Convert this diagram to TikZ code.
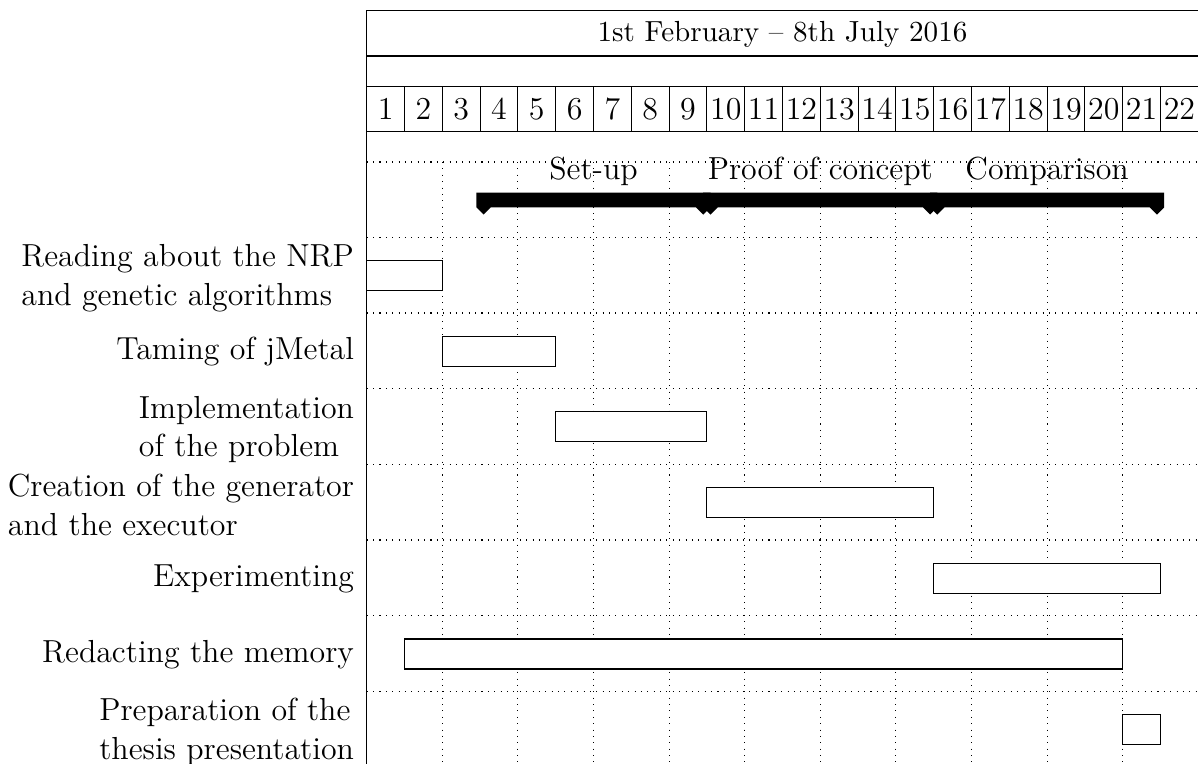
\documentclass[tikz,border=0pt,12pt]{standalone}
\begin{document}
\begin{tikzpicture}[x=0.37636pt,y=-0.37636pt,
  frameline/.style={line width=0.4pt},
  gridline/.style={dotted, line width=0.4pt},
  taskbar/.style={draw, line width=0.4pt, fill=white},
  tasklabel/.style={anchor=east, inner sep=0pt, align=left},
  grouplabel/.style={anchor=base, inner sep=0pt},
  groupbar/.style={fill=black},
  titlecell/.style={inner sep=0pt},
]
\useasboundingbox (0,0) rectangle (1198,764);

% chart geometry: left edge, column width
\def\xo{366.7}
\def\cw{37.8}

% dotted grid
\foreach \y in {162, 237.3, 313, 388.6, 464.3, 540, 615.7, 691.3}
  \draw[gridline] (\xo,\y) -- (1198,\y);
\foreach \k in {2,4,...,20}
  \draw[gridline] ({\xo+\k*\cw},162) -- ({\xo+\k*\cw},764);

% frame and title rows
\draw[frameline] (\xo,764) -- (\xo,10.7) -- (1199,10.7);
\draw[frameline] (\xo,56) -- (1199,56);
\draw[frameline] (\xo,86.7) -- (1199,86.7);
\draw[frameline] (\xo,131.7) -- (1199,131.7);
\foreach \k in {1,...,21}
  \draw[frameline] ({\xo+\k*\cw},86.7) -- ({\xo+\k*\cw},131.7);

\node[titlecell, font=\small] (title) at (782.5,34.4) {1st February -- 8th July 2016};
\foreach \i in {1,...,22}
  \node[titlecell] (num\i) at ({\xo+(\i-0.5)*\cw},109.2) {\i};

% group bars with downward peaks at both ends
\newcommand{\groupbar}[2]{%
  \fill[groupbar] (#1,192.7) -- (#2,192.7) -- (#2,207.3)
    -- ({#2-7.3},214.6) -- ({#2-14.6},207.3) -- ({#1+14.6},207.3)
    -- ({#1+7.3},214.6) -- (#1,207.3) -- cycle;}
\groupbar{476.3}{710.6}
\groupbar{703.2}{937.4}
\groupbar{930.0}{1164.2}

\node[grouplabel] (gsetup) at (593.5,180) {Set-up};
\node[grouplabel] (gproof) at (820.3,180) {Proof of concept};
\node[grouplabel] (gcomp) at (1047.1,180) {Comparison};

% task bars (row top + 23.3 to row top + 53.3)
\draw[taskbar] (366.7,260.6) rectangle (442.3,290.6);
\draw[taskbar] (442.3,336.3) rectangle (555.7,366.3);
\draw[taskbar] (555.7,411.9) rectangle (706.9,441.9);
\draw[taskbar] (706.9,487.6) rectangle (933.7,517.6);
\draw[taskbar] (933.7,563.3) rectangle (1160.5,593.3);
\draw[taskbar] (404.5,639.0) rectangle (1122.7,669.0);
\draw[taskbar] (1122.7,714.6) rectangle (1160.5,744.6);

% task labels
\node[tasklabel] (t1) at (354.5,278.2) {Reading about the NRP\\and genetic algorithms};
\node[tasklabel] (t2) at (354.5,351.9) {Taming of jMetal};
\node[tasklabel] (t3) at (354.5,429.5) {Implementation\\of the problem};
\node[tasklabel] (t4) at (354.5,505.1) {Creation of the generator\\and the executor};
\node[tasklabel] (t5) at (354.5,578.9) {Experimenting};
\node[tasklabel] (t6) at (354.5,654.5) {Redacting the memory};
\node[tasklabel] (t7) at (354.5,732.1) {Preparation of the\\thesis presentation};
\end{tikzpicture}
\end{document}
